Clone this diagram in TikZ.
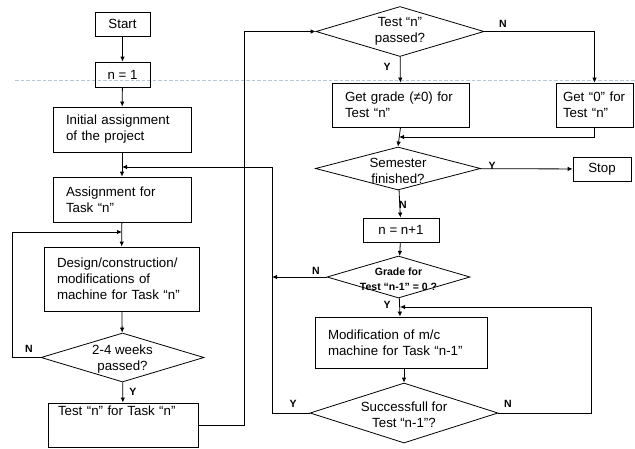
\documentclass[tikz,border=0pt]{standalone}
\usepackage{fontspec}
\setmainfont{Liberation Sans}
\usetikzlibrary{shapes.geometric,arrows.meta}
\definecolor{sepline}{RGB}{185,198,214}

\tikzset{
    box/.style={draw, line width=0.8pt, inner xsep=13pt, inner ysep=0pt, align=left,
        font=\fontsize{13.3}{16}\selectfont},
    term/.style={draw, line width=0.8pt, inner sep=0pt, align=center,
        font=\fontsize{13.3}{16}\selectfont},
    decision/.style={draw, diamond, line width=0.8pt, inner sep=0pt},
    dtext/.style={align=center, inner sep=0pt, font=\fontsize{13.3}{16}\selectfont},
    yn/.style={inner sep=0pt, font=\fontsize{10.5}{12}\selectfont\bfseries},
    flow/.style={line width=0.8pt, -{Latex[length=5pt,width=4.5pt]}},
    link/.style={line width=0.8pt}
}

\begin{document}
\begin{tikzpicture}[x=1pt, y=-1pt]
    \useasboundingbox (0,0) rectangle (635,448);

    % dashed separator
    \draw[sepline, line width=1pt, dash pattern=on 3.5pt off 2pt] (15,80) -- (635,80);

    % left column
    \node[term, minimum width=55, minimum height=24] (start) at (122.5,24) {Start};
    \node[term, minimum width=55, minimum height=25] (n1) at (122.5,74.5) {n = 1};
    \node[box, text width=112, minimum height=45] (init) at (122,129.5)
        {Initial assignment\\of the project};
    \node[box, text width=112, minimum height=45] (assign) at (122,199.5)
        {Assignment for\\Task “n”};
    \node[box, text width=129, minimum height=64] (design) at (121.5,279)
        {Design/construction/\\modifications of\\machine for Task “n”};
    \node[decision, minimum width=163, minimum height=49,
        label={[dtext, yshift=-2pt]center:2-4 weeks\\passed?}] (weeks) at (122.5,357.5) {};
    \node[box, inner xsep=10pt, text width=130, minimum height=44] (test) at (123,425)
        {Test “n” for Task “n”\\[12pt]~};

    % right column
    \node[decision, minimum width=168, minimum height=50,
        label={[dtext]center:Test “n”\\passed?}] (passed) at (400,31.5) {};
    \node[box, text width=111, minimum height=44] (grade) at (400.5,105)
        {Get grade (≠0) for\\Test “n”};
    \node[box, inner xsep=7pt, text width=63, minimum height=44] (zero) at (594.5,105)
        {Get “0” for\\Test “n”};
    \node[decision, minimum width=165, minimum height=43,
        label={[dtext, yshift=-2.5pt]center:Semester\\finished?}] (sem) at (398,168.5) {};
    \node[term, minimum width=58, minimum height=24] (stop) at (602,169) {Stop};
    \node[term, minimum width=76, minimum height=24] (inc) at (401,230) {n = n+1};
    \node[decision, minimum width=143, minimum height=42,
        label={[dtext, yshift=-2.5pt, font=\fontsize{10.5}{15}\selectfont\bfseries]center:Grade for\\Test “n-1” = 0 ?}]
        (zg) at (398.5,277) {};
    \node[box, text width=146, minimum height=51] (modif) at (401,342.5)
        {Modification of m/c\\machine for Task “n-1”};
    \node[decision, minimum width=188, minimum height=60,
        label={[dtext, yshift=-1.5pt]center:Successfull for\\Test “n-1”?}] (succ) at (404,413) {};

    % helper points
    \coordinate (intoassign) at (122,167);
    \coordinate (intodesign) at (122,232);
    \coordinate (merge) at (399,137);
    \coordinate (intomodif) at (400,307);

    % straight arrows
    \draw[flow] (start) -- (n1);
    \draw[flow] (n1) -- (init);
    \draw[flow] (init) -- (assign);
    \draw[flow] (assign) -- (design);
    \draw[flow] (design) -- (weeks);
    \draw[flow] (weeks) -- (test);
    \draw[flow] (passed) -- (grade);
    \draw[flow] (grade.south) -- (sem.north);
    \draw[flow] (sem) -- (stop);
    \draw[flow] (sem) -- (inc);
    \draw[flow] (inc) -- (zg);
    \draw[flow] (zg) -- (modif);
    \draw[flow] (modif.south -| succ.north) -- (succ.north);

    % loops and branches
    \draw[flow] (weeks.west) -- (12,357.5) |- (intodesign);
    \draw[flow] (test.east) -- (244,425) |- (passed.west);
    \draw[flow] (passed.east) -| (zero.north);
    \draw[flow] (zero.south) |- (merge);
    \draw[flow] (zg.west) -- (272,277);
    \draw[flow] (succ.west) -- (272,413) |- (intoassign);
    \draw[flow] (succ.east) -- (591,413) |- (intomodif);

    % Y / N labels
    \node[yn] (wn) at (29,349) {N};
    \node[yn] (wy) at (133,392) {Y};
    \node[yn] (py) at (387,67) {Y};
    \node[yn] (pn) at (503,24) {N};
    \node[yn] (sy) at (492,166) {Y};
    \node[yn] (sn) at (403,205) {N};
    \node[yn] (zn) at (316,271) {N};
    \node[yn] (zy) at (387,305) {Y};
    \node[yn] (cy) at (293,404) {Y};
    \node[yn] (cn) at (508,404) {N};
\end{tikzpicture}
\end{document}
